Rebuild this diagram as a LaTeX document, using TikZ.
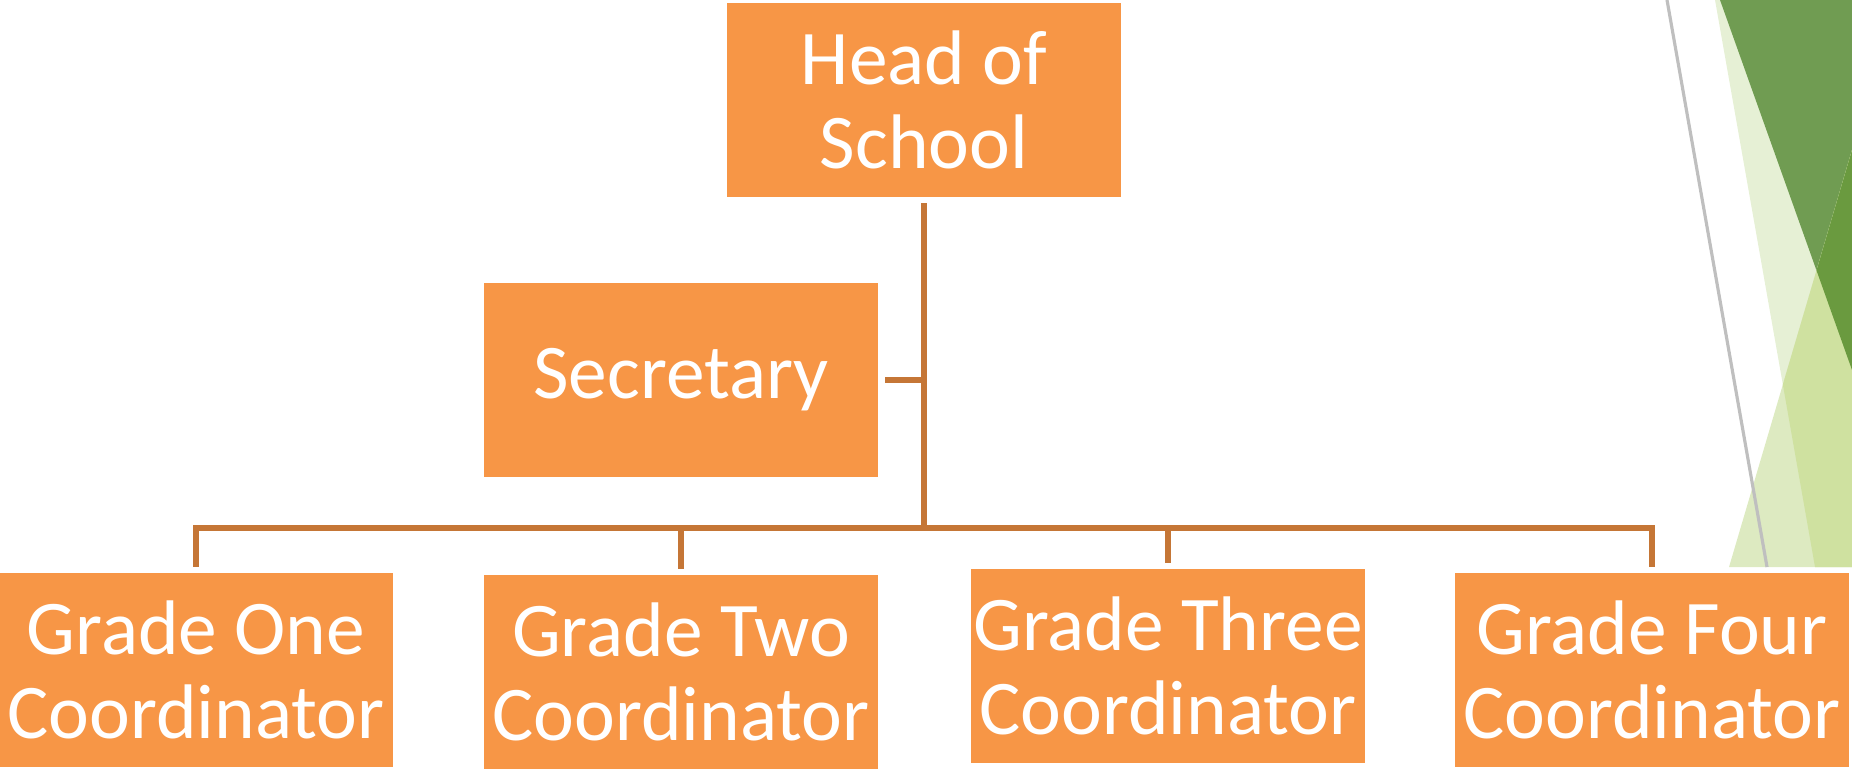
\documentclass[tikz,border=0pt]{standalone}
\usepackage{fontspec}
\setmainfont{Carlito}
\definecolor{boxorange}{HTML}{F79646}
\definecolor{linebrown}{HTML}{C57636}
\definecolor{leafdark}{HTML}{709C52}
\definecolor{leafdeep}{HTML}{6A9A3F}
\definecolor{leafpale}{HTML}{E6F0D5}
\definecolor{leaflight}{HTML}{DDEAC1}
\definecolor{leafmid}{HTML}{CFE1A0}

\tikzset{
  orgbox/.style={rectangle,fill=boxorange,draw=white,line width=0.4pt,
    minimum width=3.96cm,minimum height=1.95cm,inner sep=0pt,
    text=white,align=center,font=\fontsize{22pt}{24pt}\selectfont},
  orgline/.style={linebrown,line width=1.7pt,shorten <=0.05cm,shorten >=0.05cm}
}

\begin{document}
\begin{tikzpicture}[x=0.01cm,y=-0.01cm]
   \useasboundingbox (0,0) rectangle (1852,769);
   % corner ornament
   \fill[leafpale] (1715,0) -- (1852,0) -- (1852,567) -- (1815,567) -- cycle;
   \fill[leafdark] (1720,0) -- (1852,0) -- (1852,370) -- cycle;
   \fill[leaflight] (1852,150) -- (1852,567) -- (1729,567) -- cycle;
   \begin{scope}
      \clip (1715,0) -- (1852,0) -- (1852,567) -- (1815,567) -- cycle;
      \fill[leafmid] (1852,150) -- (1852,567) -- (1729,567) -- cycle;
   \end{scope}
   \begin{scope}
      \clip (1720,0) -- (1852,0) -- (1852,370) -- cycle;
      \fill[leafdeep] (1852,150) -- (1852,567) -- (1729,567) -- cycle;
   \end{scope}
   \draw[black!25,line width=0.9pt] (1667,0) -- (1767,567);
   % boxes
   \node[orgbox] (head) at (924,100) {Head of\\School};
   \node[orgbox] (secretary) at (681,380) {Secretary};
   \node[orgbox] (gradeone) at (196,670) {Grade One\\Coordinator};
   \node[orgbox] (gradetwo) at (681,672) {Grade Two\\Coordinator};
   \node[orgbox] (gradethree) at (1168,666) {Grade Three\\Coordinator};
   \node[orgbox] (gradefour) at (1652,670) {Grade Four\\Coordinator};
   \coordinate (bus) at (924,528);
   % connectors
   \draw[orgline,shorten >=0pt] (head.south) -- (bus);
   \draw[orgline] (head.south) |- (secretary.east);
   \draw[orgline,shorten <=0pt] (bus) -| (gradeone.north);
   \draw[orgline,shorten <=0pt] (bus) -| (gradetwo.north);
   \draw[orgline,shorten <=0pt] (bus) -| (gradethree.north);
   \draw[orgline,shorten <=0pt] (bus) -| (gradefour.north);
\end{tikzpicture}
\end{document}
